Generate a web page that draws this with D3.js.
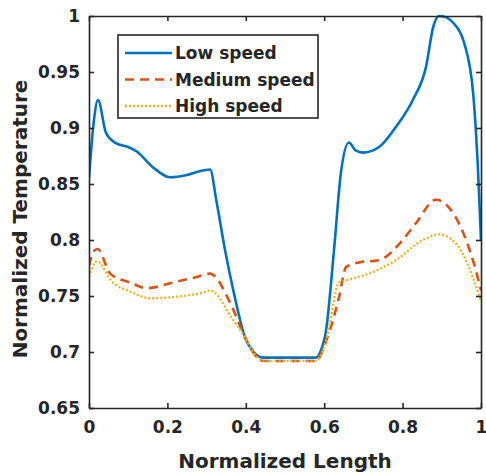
<!DOCTYPE html>
<html>
<head>
<meta charset="utf-8">
<script src="https://cdn.jsdelivr.net/npm/d3@7"></script>
<style>
	body { margin: 0; background: #fff; }
	text { font-family: "DejaVu Sans", sans-serif; font-weight: bold; fill: #262626; }
</style>
</head>
<body>
<div id="chart"></div>
<script>
// values
const low_x = [0, 0.012, 0.023, 0.043, 0.066, 0.1, 0.122, 0.163, 0.207, 0.25, 0.29, 0.309, 0.325, 0.347, 0.37, 0.398, 0.42, 0.444, 0.5, 0.579, 0.59, 0.605, 0.625, 0.643, 0.663, 0.68, 0.699, 0.74, 0.783, 0.826, 0.86, 0.878, 0.893, 0.91, 0.929, 0.957, 0.98, 0.992, 1.0];
const low_y = [0.855, 0.905, 0.925, 0.896, 0.887, 0.883, 0.879, 0.865, 0.856, 0.858, 0.862, 0.863, 0.835, 0.791, 0.752, 0.713, 0.7, 0.695, 0.695, 0.695, 0.70, 0.72, 0.791, 0.861, 0.887, 0.88, 0.878, 0.883, 0.901, 0.925, 0.955, 0.99, 1.0, 0.999, 0.994, 0.976, 0.931, 0.865, 0.8];
const medium_x = [0, 0.012, 0.022, 0.054, 0.105, 0.148, 0.214, 0.275, 0.309, 0.36, 0.398, 0.418, 0.444, 0.5, 0.579, 0.605, 0.638, 0.656, 0.689, 0.74, 0.8, 0.834, 0.885, 0.929, 0.962, 0.982, 1.0];
const medium_y = [0.777, 0.79, 0.792, 0.77, 0.762, 0.757, 0.762, 0.767, 0.77, 0.744, 0.713, 0.70, 0.692, 0.692, 0.692, 0.71, 0.749, 0.776, 0.78, 0.782, 0.8, 0.815, 0.836, 0.824, 0.8, 0.779, 0.755];
const high_x = [0, 0.012, 0.02, 0.061, 0.105, 0.156, 0.214, 0.30, 0.309, 0.367, 0.398, 0.418, 0.444, 0.5, 0.579, 0.605, 0.638, 0.656, 0.714, 0.783, 0.852, 0.893, 0.936, 0.969, 1.0];
const high_y = [0.767, 0.778, 0.781, 0.762, 0.754, 0.748, 0.749, 0.754, 0.755, 0.729, 0.713, 0.70, 0.692, 0.692, 0.692, 0.71, 0.762, 0.764, 0.77, 0.782, 0.8, 0.805, 0.797, 0.776, 0.745];

const series_names = ["Low speed", "Medium speed", "High speed"];
const x_ticks = [0, 0.2, 0.4, 0.6, 0.8, 1];
const y_ticks = [0.65, 0.7, 0.75, 0.8, 0.85, 0.9, 0.95, 1];

const canvas_width = 486;
const canvas_height = 476;
const plot_left = 89, plot_right = 481, plot_top = 16, plot_bottom = 408;

const series = [
	{ name: series_names[0], xs: low_x, ys: low_y, color: "#0072BD", dash: null, width: 2.6 },
	{ name: series_names[1], xs: medium_x, ys: medium_y, color: "#D95319", dash: "9,6", width: 2.6 },
	{ name: series_names[2], xs: high_x, ys: high_y, color: "#EDB120", dash: "2,2", width: 2.3 }
];

let x = d3.scaleLinear().domain([0, 1]).range([plot_left, plot_right]);
let y = d3.scaleLinear().domain([0.65, 1]).range([plot_bottom, plot_top]);

let svg = d3.select("#chart").append("svg")
	.attr("width", canvas_width)
	.attr("height", canvas_height);

svg.append("defs").append("clipPath")
	.attr("id", "clip")
	.append("rect")
	.attr("x", plot_left)
	.attr("y", plot_top - 2)
	.attr("width", plot_right - plot_left)
	.attr("height", plot_bottom - plot_top + 2);

let line = d3.line()
	.x(d => x(d[0]))
	.y(d => y(d[1]))
	.curve(d3.curveMonotoneX);

svg.append("g")
	.attr("clip-path", "url(#clip)")
	.selectAll("path")
	.data(series)
	.join("path")
	.attr("d", s => line(s.xs.map((v, i) => [v, s.ys[i]])))
	.attr("fill", "none")
	.attr("stroke", s => s.color)
	.attr("stroke-width", s => s.width)
	.attr("stroke-dasharray", s => s.dash)
	.attr("stroke-linejoin", "round");

// axes, matlab style: ticks inside, box on
const axis_color = "#262626";
function style_axis(g) {
	g.selectAll("path, line").attr("stroke", axis_color).attr("stroke-width", 1.6);
	g.selectAll("text")
		.attr("font-family", "DejaVu Sans, sans-serif")
		.attr("font-size", 17)
		.attr("font-weight", "bold")
		.attr("fill", axis_color);
}

svg.append("g")
	.attr("transform", `translate(0,${plot_bottom})`)
	.call(d3.axisBottom(x).tickValues(x_ticks).tickFormat(d3.format("")).tickSizeInner(-5).tickSizeOuter(0).tickPadding(13))
	.call(style_axis);

svg.append("g")
	.attr("transform", `translate(0,${plot_top})`)
	.call(d3.axisTop(x).tickValues(x_ticks).tickSizeInner(-5).tickSizeOuter(0).tickFormat(""))
	.call(style_axis);

svg.append("g")
	.attr("transform", `translate(${plot_left},0)`)
	.call(d3.axisLeft(y).tickValues(y_ticks).tickFormat(d3.format("")).tickSizeInner(-5).tickSizeOuter(0).tickPadding(9))
	.call(style_axis);

svg.append("g")
	.attr("transform", `translate(${plot_right},0)`)
	.call(d3.axisRight(y).tickValues(y_ticks).tickSizeInner(-5).tickSizeOuter(0).tickFormat(""))
	.call(style_axis);

svg.append("text")
	.attr("x", 285)
	.attr("y", 468)
	.attr("text-anchor", "middle")
	.attr("font-size", 20)
	.text("Normalized Length");

svg.append("text")
	.attr("transform", "translate(27,219) rotate(-90)")
	.attr("text-anchor", "middle")
	.attr("font-size", 20)
	.text("Normalized Temperature");

// legend
const legend_x = 118, legend_y = 35, legend_w = 200, legend_h = 83, row_h = 26.5;
let legend = svg.append("g");
legend.append("rect")
	.attr("x", legend_x)
	.attr("y", legend_y)
	.attr("width", legend_w)
	.attr("height", legend_h)
	.attr("fill", "#fff")
	.attr("stroke", axis_color)
	.attr("stroke-width", 1.6);

let rows = legend.selectAll("g.row")
	.data(series)
	.join("g")
	.attr("class", "row")
	.attr("transform", (s, i) => `translate(0,${legend_y + 18 + i * row_h})`);

rows.append("line")
	.attr("x1", legend_x + 7)
	.attr("x2", legend_x + 54)
	.attr("stroke", s => s.color)
	.attr("stroke-width", s => s.width)
	.attr("stroke-dasharray", s => s.dash);

rows.append("text")
	.attr("x", legend_x + 57)
	.attr("dy", "0.36em")
	.attr("font-size", 17)
	.text(s => s.name);
</script>
</body>
</html>
